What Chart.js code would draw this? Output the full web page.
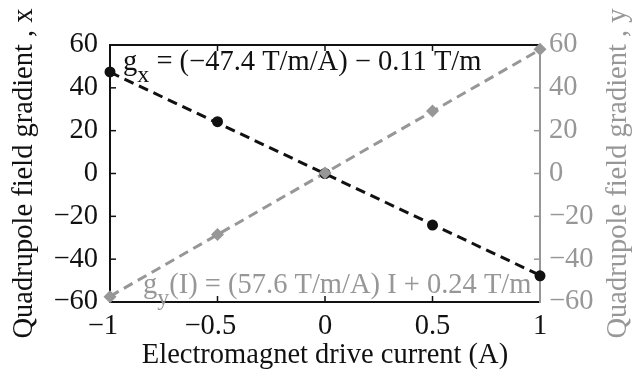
<!DOCTYPE html>
<html>
<head>
<meta charset="utf-8">
<script src="https://cdn.jsdelivr.net/npm/chart.js@4.4.1/dist/chart.umd.min.js"></script>
<style>
  html, body { margin: 0; padding: 0; background: #fff; }
  canvas { display: block; }
</style>
</head>
<body>
<canvas id="c" width="639" height="371"></canvas>
<script>
// Drive current (A) at which the gradients were measured
const currents = [-1, -0.5, 0, 0.5, 1];
// Measured gradients (T/m)
const gxMeasured = [47.4, 24.2, 0.0, -24.1, -47.8];
const gyMeasured = [-57.6, -28.5, 0.2, 29.2, 58.0];
// Linear fits: slope (T/m/A) and offset (T/m)
const gxFit = { slope: -47.4, offset: -0.11 };
const gyFit = { slope: 57.6, offset: 0.24 };
// Fit lines evaluated at the ends of the current range
const fitEnds = [-1, 1];
const gxFitLine = [47.29, -47.51];
const gyFitLine = [-57.36, 57.84];
// Tick labels
const xTicks = [-1, -0.5, 0, 0.5, 1];
const yTicks = [-60, -40, -20, 0, 20, 40, 60];

const BLACK = '#111';
const GREY = '#979797';
const FONT = 'Liberation Serif, Times New Roman, serif';
const SIZE = 28.5;
const fmt = v => (v < 0 ? '\u2212' + Math.abs(v) : String(v));
// x labels keep the digits centred on the tick; the minus sign hangs to the left
const fmtX = v => (v < 0 ? fmt(v) + '\u2002' : fmt(v));

const pts = (xs, ys) => xs.map((x, i) => ({ x, y: ys[i] }));

// Ticks pointing inward from every side of the frame
const innerTicks = {
  id: 'innerTicks',
  afterDatasetsDraw(chart) {
    const { ctx, chartArea: a, scales } = chart;
    const len = 6;
    ctx.save();
    ctx.lineWidth = 1.5;
    ctx.strokeStyle = BLACK;
    xTicks.slice(1, -1).forEach(v => {
      const px = scales.x.getPixelForValue(v);
      ctx.beginPath();
      ctx.moveTo(px, a.bottom); ctx.lineTo(px, a.bottom - len);
      ctx.moveTo(px, a.top); ctx.lineTo(px, a.top + len);
      ctx.stroke();
    });
    yTicks.slice(1, -1).forEach(v => {
      const py = scales.y.getPixelForValue(v);
      ctx.strokeStyle = BLACK;
      ctx.beginPath();
      ctx.moveTo(a.left, py); ctx.lineTo(a.left + len, py);
      ctx.stroke();
      const py2 = scales.y2.getPixelForValue(v);
      ctx.strokeStyle = GREY;
      ctx.beginPath();
      ctx.moveTo(a.right, py2); ctx.lineTo(a.right - len, py2);
      ctx.stroke();
    });
    ctx.restore();
  }
};

// Text with a subscript after the first glyph
function subText(ctx, x, y, base, sub, rest, size, color) {
  ctx.fillStyle = color;
  ctx.font = size + 'px ' + FONT;
  ctx.textAlign = 'left';
  ctx.textBaseline = 'alphabetic';
  ctx.fillText(base, x, y);
  let cx = x + ctx.measureText(base).width;
  const subSize = Math.round(size * 0.85);
  ctx.font = subSize + 'px ' + FONT;
  ctx.fillText(sub, cx, y + size * 0.42);
  cx += ctx.measureText(sub).width;
  ctx.font = size + 'px ' + FONT;
  ctx.fillText(rest, cx, y);
}

const titlesAndFits = {
  id: 'titlesAndFits',
  afterDraw(chart) {
    const { ctx, chartArea: a } = chart;
    const cy = (a.top + a.bottom) / 2;
    ctx.save();
    ctx.font = SIZE + 'px ' + FONT;
    ctx.textBaseline = 'middle';
    ctx.textAlign = 'center';
    // left axis title
    ctx.save();
    ctx.translate(25, cy);
    ctx.rotate(-Math.PI / 2);
    ctx.fillStyle = BLACK;
    ctx.fillText('Quadrupole field gradient , x', 0, 0);
    ctx.restore();
    // right axis title
    ctx.save();
    ctx.translate(619, cy);
    ctx.rotate(-Math.PI / 2);
    ctx.fillStyle = GREY;
    ctx.fillText('Quadrupole field gradient , y', 0, 0);
    ctx.restore();
    // bottom axis title
    ctx.fillStyle = BLACK;
    ctx.textBaseline = 'alphabetic';
    ctx.fillText('Electromagnet drive current (A)', (a.left + a.right) / 2, 363);
    // fit equations
    subText(ctx, a.left + 13, a.top + 25, 'g', 'x',
      ' = (' + fmt(gxFit.slope) + ' T/m/A) \u2212 ' + Math.abs(gxFit.offset) + ' T/m', SIZE, BLACK);
    subText(ctx, a.left + 33, a.bottom - 9, 'g', 'y',
      '(I) = (' + gyFit.slope + ' T/m/A) I + ' + gyFit.offset + ' T/m', SIZE, GREY);
    ctx.restore();
  }
};

const tickFont = { family: FONT, size: SIZE };

new Chart(document.getElementById('c'), {
  type: 'scatter',
  data: {
    datasets: [
      {
        data: pts(currents, gyMeasured), yAxisID: 'y',
        pointStyle: 'rectRot', pointRadius: 6.5, backgroundColor: GREY, borderColor: GREY,
        borderWidth: 0, showLine: false, clip: false
      },
      {
        data: pts(currents, gxMeasured), yAxisID: 'y',
        pointStyle: 'circle', pointRadius: 5.5, backgroundColor: BLACK, borderColor: BLACK,
        borderWidth: 0, showLine: false, clip: false
      },
      {
        data: pts(fitEnds, gyFitLine), yAxisID: 'y', showLine: true, pointRadius: 0,
        borderColor: GREY, borderWidth: 3, borderDash: [10, 6], clip: false
      },
      {
        data: pts(fitEnds, gxFitLine), yAxisID: 'y', showLine: true, pointRadius: 0,
        borderColor: BLACK, borderWidth: 3, borderDash: [10, 6], clip: false
      }
    ]
  },
  options: {
    responsive: false,
    animation: false,
    events: [],
    layout: { padding: { left: 0, right: 0, top: 45, bottom: 0 } },
    plugins: { legend: { display: false }, tooltip: { enabled: false } },
    scales: {
      x: {
        type: 'linear', position: 'bottom', min: -1, max: 1,
        afterBuildTicks: s => { s.ticks = xTicks.map(v => ({ value: v })); },
        afterFit: s => { s.height = 69; },
        grid: { display: false, drawTicks: false },
        border: { display: true, color: BLACK, width: 2 },
        ticks: { color: BLACK, font: tickFont, padding: 7, callback: v => fmtX(v), maxRotation: 0, autoSkip: false }
      },
      x2: {
        type: 'linear', position: 'top', min: -1, max: 1,
        afterFit: s => { s.height = 0; },
        grid: { display: false, drawTicks: false },
        border: { display: true, color: BLACK, width: 2 },
        ticks: { display: false }
      },
      y: {
        type: 'linear', position: 'left', min: -60, max: 60,
        afterBuildTicks: s => { s.ticks = yTicks.map(v => ({ value: v })); },
        afterFit: s => { s.width = 110; },
        grid: { display: false, drawTicks: false },
        border: { display: true, color: BLACK, width: 2 },
        ticks: { color: BLACK, font: tickFont, padding: 12, callback: v => fmt(v) }
      },
      y2: {
        type: 'linear', position: 'right', min: -60, max: 60,
        afterBuildTicks: s => { s.ticks = yTicks.map(v => ({ value: v })); },
        afterFit: s => { s.width = 99; },
        grid: { display: false, drawTicks: false },
        border: { display: true, color: GREY, width: 2 },
        ticks: { color: GREY, font: tickFont, padding: 9, callback: v => fmt(v) }
      }
    }
  },
  plugins: [innerTicks, titlesAndFits]
});
</script>
</body>
</html>
